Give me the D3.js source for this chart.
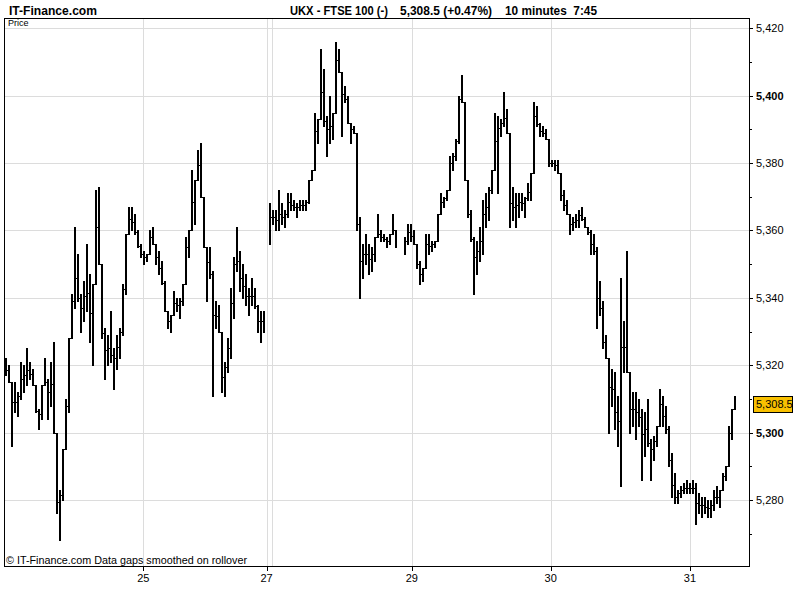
<!DOCTYPE html>
<html><head><meta charset="utf-8">
<script src="https://cdn.jsdelivr.net/npm/d3@7"></script>
<style>
html,body{margin:0;padding:0;background:#fff;}
svg{display:block;font-family:"Liberation Sans",Arial,sans-serif;}
</style></head>
<body>
<svg id="chart" width="800" height="600"></svg>
<script>
// ---- header texts ----
const siteName = "IT-Finance.com";
const headerParts = ["UKX - FTSE 100 (-)", "5,308.5 (+0.47%)", "10 minutes\u00A0\u00A07:45"];
const footNote = "\u00A9 IT-Finance.com  Data gaps smoothed on rollover";
const axisTitle = "Price";
const lastValue = 5308.5;

// ---- bar series (10-minute bars; null = gap) ----
const highs = [
5322,5320,5312,5315,5312,5321,5320,5325,5321,5319,
5311,5307,5314,5322,5316,5321,5327,5294,5283,5295,
5310,5328,5341,5361,5353,5341,5345,5356,5347,5344,
5372,5373,5345,5331,5329,5336,5325,5329,5331,5344,
5359,5367,5367,5365,5360,5356,5354,5353,5360,5361,
5356,5354,5351,5345,5336,5335,5342,5340,5340,5344,
5358,5360,5378,5375,5384,5386,5370,5355,5355,5348,
5339,5338,5325,5321,5328,5343,5352,5361,5354,5350,
5347,5343,5346,5343,5338,5336,5336,null,5368,5366,
5366,5372,5368,5366,5371,5371,5369,5368,5369,5369,
5369,5375,5378,5395,5393,5414,5408,5394,5400,5395,
5416,5414,5404,5403,5400,5391,5391,5371,5364,5356,
5359,5356,5355,5358,5365,5360,5359,5358,5359,5365,
5356,null,null,5358,5362,5362,5360,5353,5351,5349,
5359,5359,5357,5357,5365,5371,5370,5372,5382,5383,
5387,5400,5406,5391,5372,5366,5358,5357,5361,5369,
5371,5373,5378,5395,5394,5393,5401,5396,5378,5373,
5371,5371,5371,5370,5374,5377,5398,5397,5392,5391,
5390,5387,5381,5381,5381,5375,5372,5369,5365,5364,
5365,5366,5367,5364,5361,5360,5359,5355,5345,5339,
5329,5320,5319,5318,5311,5346,5333,5354,5313,5312,
5312,5310,5307,5306,5310,5298,5299,5302,5313,5311,
5308,5302,5294,5288,5283,5284,5285,5286,5285,5286,
5285,5282,5281,5281,5280,5280,5283,5284,5283,5288,
5290,5302,5307,5311
];
const lows = [
5317,5315,5296,5306,5305,5310,5312,5314,5316,5314,
5306,5301,5304,5314,5304,5308,5300,5276,5268,5280,
5295,5306,5328,5337,5339,5330,5333,5336,5327,5320,
5346,5350,5328,5316,5320,5321,5313,5319,5322,5329,
5341,5359,5360,5359,5355,5352,5350,5351,5353,5356,
5350,5347,5344,5336,5331,5330,5337,5336,5334,5338,
5346,5352,5360,5362,5375,5370,5355,5339,5346,5311,
5331,5330,5312,5311,5318,5322,5334,5348,5342,5340,
5338,5335,5338,5337,5330,5327,5330,null,5356,5362,
5360,5360,5362,5361,5364,5366,5366,5364,5366,5366,
5366,5368,5375,5381,5386,5394,5391,5382,5386,5387,
5403,5407,5388,5398,5392,5386,5389,5360,5340,5346,
5350,5347,5348,5351,5358,5357,5357,5355,5356,5360,
5355,null,null,5353,5356,5357,5356,5349,5344,5345,
5351,5353,5354,5355,5359,5367,5367,5369,5373,5378,
5381,5386,5398,5375,5364,5357,5341,5347,5351,5353,
5361,5363,5371,5379,5371,5388,5391,5389,5361,5363,
5361,5364,5366,5364,5369,5369,5386,5391,5388,5388,
5387,5379,5379,5378,5377,5369,5366,5365,5359,5360,
5361,5361,5363,5361,5359,5353,5353,5331,5335,5325,
5322,5300,5308,5301,5296,5284,5318,5318,5300,5302,
5298,5302,5286,5293,5296,5286,5292,5296,5306,5302,
5300,5290,5281,5279,5279,5281,5282,5282,5282,5282,
5273,5276,5275,5276,5275,5275,5277,5279,5278,5283,
5286,5297,5298,5308.5
];

// ---- axes ----
const dayLabels = ["25", "27", "29", "30", "31"];
const dayStartBar = [46.1, 87.2, 135.6, 181.9, 228.3];   // bar index where each day label sits
const extraGridBar = [89.0];                             // session line after rollover
const priceTicks = [5280, 5300, 5320, 5340, 5360, 5380, 5400, 5420];
const priceMinor = [5270, 5290, 5310, 5330, 5350, 5370, 5390, 5410];
const priceDomain = [5260.4, 5423.06];

// ---- drawing ----
const svg = d3.select("#chart");
const L = 4, R = 749, T = 18, B = 566;
const x = d3.scaleLinear().domain([0, highs.length - 1]).range([5, 734]);
const y = d3.scaleLinear().domain(priceDomain).range([B, T]);

// grid
const grid = svg.append("g").attr("shape-rendering", "crispEdges");
grid.selectAll("line.h").data(priceTicks).join("line")
  .attr("x1", L).attr("x2", R)
  .attr("y1", d => Math.round(y(d)) + 0.5).attr("y2", d => Math.round(y(d)) + 0.5)
  .attr("stroke", "#dcdcdc");
grid.selectAll("line.v").data(dayStartBar.concat(extraGridBar)).join("line")
  .attr("x1", d => Math.round(x(d)) + 0.5).attr("x2", d => Math.round(x(d)) + 0.5)
  .attr("y1", T).attr("y2", B)
  .attr("stroke", "#dcdcdc");

// bars (vertical high-low strokes joined by short 1px steps)
let vPath = "", hPath = "";
let prev = null;
for (let i = 0; i < highs.length; i++) {
  const h = highs[i], l = lows[i];
  if (h == null || l == null) { prev = null; continue; }
  let top = h, bot = l;
  const xi = Math.round(x(i)) + 1;
  if (prev) {
    let c;
    if (l > prev.h) c = prev.h;
    else if (h < prev.l) c = prev.l;
    else c = (Math.max(l, prev.l) + Math.min(h, prev.h)) / 2;
    top = Math.max(top, c); bot = Math.min(bot, c);
    const yc = Math.round(y(c)) + 0.5;
    hPath += `M${prev.x},${yc}H${xi}`;
  }
  vPath += `M${xi},${Math.round(y(top))}V${Math.round(y(bot)) + 1}`;
  prev = { h, l, x: xi };
}
svg.append("path").attr("d", hPath).attr("fill", "none")
  .attr("stroke", "#000").attr("stroke-width", 1).attr("shape-rendering", "crispEdges");
svg.append("path").attr("d", vPath).attr("fill", "none")
  .attr("stroke", "#000").attr("stroke-width", 2).attr("shape-rendering", "crispEdges");

// frame
svg.append("rect").attr("x", L + 0.5).attr("y", T + 0.5).attr("width", R - L).attr("height", B - T)
  .attr("fill", "none").attr("stroke", "#000").attr("shape-rendering", "crispEdges");

// right axis
const ra = svg.append("g").attr("shape-rendering", "crispEdges");
ra.selectAll("line.maj").data(priceTicks).join("line")
  .attr("x1", R).attr("x2", R + 4)
  .attr("y1", d => Math.round(y(d)) + 0.5).attr("y2", d => Math.round(y(d)) + 0.5)
  .attr("stroke", "#000");
ra.selectAll("line.min").data(priceMinor).join("line")
  .attr("x1", R).attr("x2", R + 3)
  .attr("y1", d => Math.round(y(d)) + 0.5).attr("y2", d => Math.round(y(d)) + 0.5)
  .attr("stroke", "#000");
const fmt = d3.format(",");
svg.append("g").selectAll("text").data(priceTicks).join("text")
  .attr("x", 756).attr("y", d => y(d) + 4)
  .attr("font-size", 11)
  .attr("font-weight", d => d % 100 === 0 ? "bold" : "normal")
  .text(d => fmt(d));

// last value box
const lv = y(lastValue);
svg.append("rect").attr("x", 753.5).attr("y", Math.round(lv) - 7.5).attr("width", 39).attr("height", 16)
  .attr("fill", "#f8c000").attr("stroke", "#000").attr("shape-rendering", "crispEdges");
svg.append("text").attr("x", 756).attr("y", lv + 4).attr("font-size", 11)
  .text(d3.format(",.1f")(lastValue));

// bottom axis
const ba = svg.append("g").attr("shape-rendering", "crispEdges");
ba.selectAll("line").data(dayStartBar).join("line")
  .attr("x1", d => Math.round(x(d)) + 0.5).attr("x2", d => Math.round(x(d)) + 0.5)
  .attr("y1", B).attr("y2", B + 5).attr("stroke", "#000");
svg.append("g").selectAll("text").data(dayLabels).join("text")
  .attr("x", (d, i) => x(dayStartBar[i])).attr("y", 582)
  .attr("text-anchor", "middle").attr("font-size", 11)
  .text(d => d);

// texts
svg.append("text").attr("x", 8).attr("y", 26).attr("font-size", 9).text(axisTitle);
svg.append("text").attr("x", 6).attr("y", 564).attr("font-size", 11)
  .attr("textLength", 241).attr("lengthAdjust", "spacingAndGlyphs").text(footNote);
svg.append("text").attr("x", 9).attr("y", 15).attr("font-size", 13).attr("font-weight", "bold")
  .attr("textLength", 88).attr("lengthAdjust", "spacingAndGlyphs").text(siteName);
const hx = [290, 400, 505], hw = [98, 92, 92];
svg.append("g").selectAll("text").data(headerParts).join("text")
  .attr("x", (d, i) => hx[i]).attr("y", 15).attr("font-size", 13).attr("font-weight", "bold")
  .attr("textLength", (d, i) => hw[i]).attr("lengthAdjust", "spacingAndGlyphs")
  .text(d => d);
</script>
</body></html>
